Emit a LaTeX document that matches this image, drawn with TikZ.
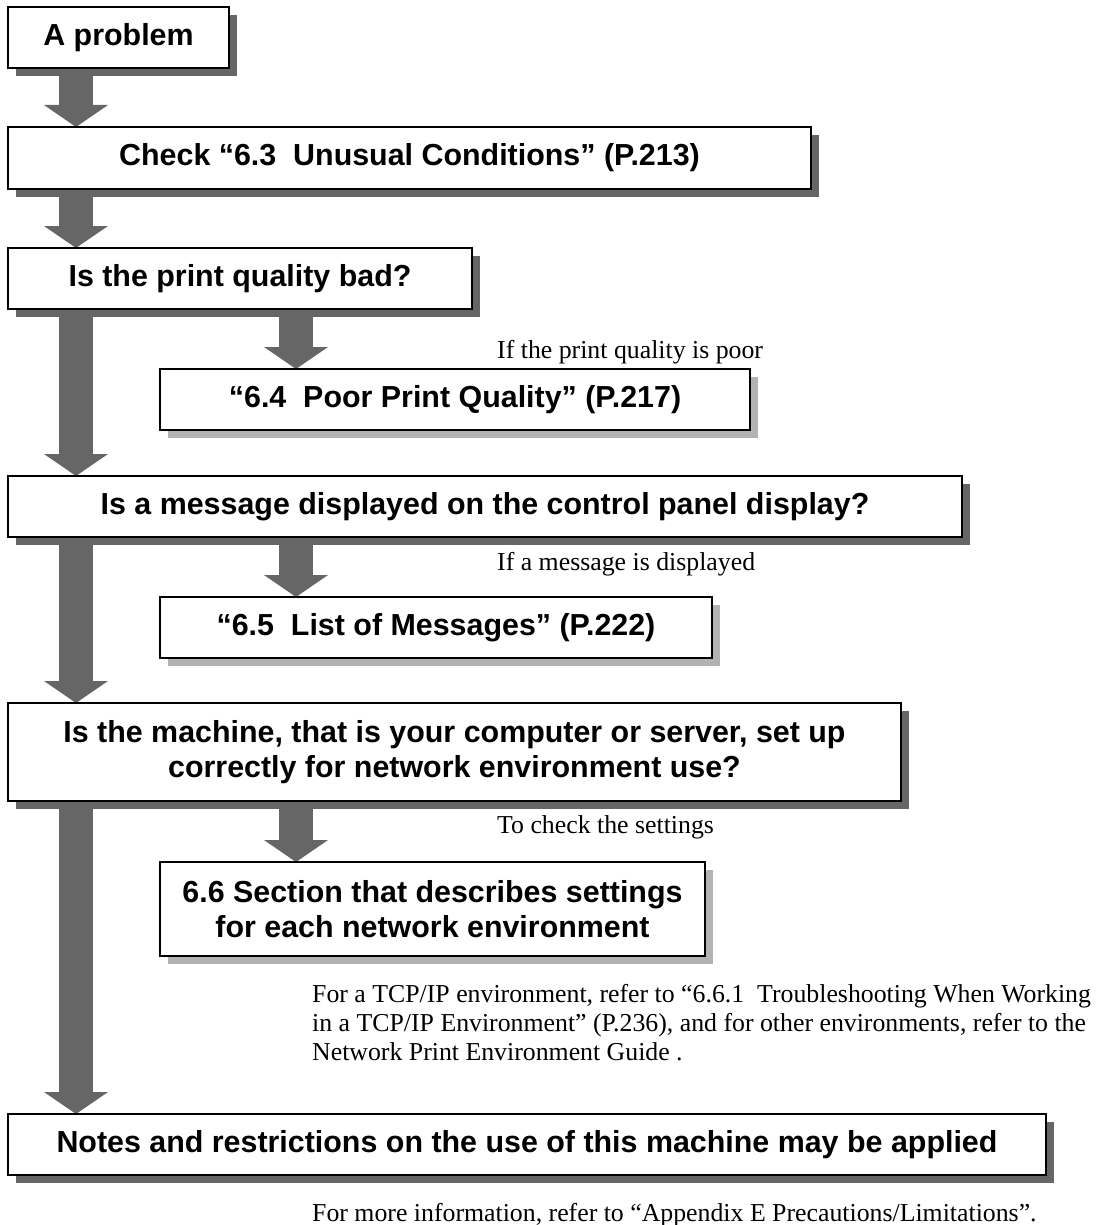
\documentclass[tikz,border=0pt]{standalone}
\usepackage{fontspec}
\setmainfont{Liberation Serif}
\newfontfamily\boxfont{Liberation Sans}
\usetikzlibrary{arrows.meta, shadows, backgrounds}
\definecolor{arrowgray}{RGB}{102,102,102}
\definecolor{shadowdark}{RGB}{102,102,102}
\definecolor{shadowlight}{RGB}{179,179,179}

\begin{document}
\begin{tikzpicture}[x=1pt, y=-1pt,
    box/.style={draw, line width=2.7pt, fill=white, outer sep=0pt, inner sep=0pt, anchor=north west, align=center,
        font=\boxfont\bfseries\fontsize{30.4}{35}\selectfont},
    mainbox/.style={box, drop shadow={shadow xshift=8pt, shadow yshift=-8pt, opacity=1, fill=shadowdark}},
    subbox/.style={box, drop shadow={shadow xshift=8pt, shadow yshift=-8pt, opacity=1, fill=shadowlight}},
    bigarrow/.style={line width=34pt, draw=arrowgray, -{Triangle[width=63pt, length=22pt]}},
    note/.style={anchor=base west, inner sep=0pt, align=left, font=\fontsize{25.8}{28.6}\selectfont}
]
\useasboundingbox (0,0) rectangle (1098,1225);

% Main column
\node[mainbox, minimum width=221pt, minimum height=61pt] (prob) at (8,7) {A problem};
\node[mainbox, minimum width=803pt, minimum height=62pt] (check) at (8,127) {Check “6.3\ \ Unusual Conditions” (P.213)};
\node[mainbox, minimum width=464pt, minimum height=61pt] (qual) at (8,248) {Is the print quality bad?};
\node[mainbox, minimum width=954pt, minimum height=61pt] (msg) at (8,476) {Is a message displayed on the control panel display?};
\node[mainbox, minimum width=893pt, minimum height=98pt] (net) at (8,703) {Is the machine, that is your computer or server, set up\\correctly for network environment use?};
\node[mainbox, minimum width=1038pt, minimum height=61pt] (notes) at (8,1114) {Notes and restrictions on the use of this machine may be applied};

% Side boxes
\node[subbox, minimum width=590pt, minimum height=61pt] (poor) at (160,369) {“6.4\ \ Poor Print Quality” (P.217)};
\node[subbox, minimum width=552pt, minimum height=61pt] (list) at (160,597) {“6.5\ \ List of Messages” (P.222)};
\node[subbox, minimum width=545pt, minimum height=94pt] (sect) at (160,862) {6.6 Section that describes settings\\for each network environment};

% Arrows
\begin{scope}[on background layer]
\draw[bigarrow] ([xshift=68pt]prob.south west) -- ([xshift=68pt]check.north west);
\draw[bigarrow] ([xshift=68pt]check.south west) -- ([xshift=68pt]qual.north west);
\draw[bigarrow] ([xshift=68pt]qual.south west) -- ([xshift=68pt]msg.north west);
\draw[bigarrow] ([xshift=68pt]msg.south west) -- ([xshift=68pt]net.north west);
\draw[bigarrow] ([xshift=68pt]net.south west) -- ([xshift=68pt]notes.north west);
\draw[bigarrow] ([xshift=288pt]qual.south west) -- ([xshift=136pt]poor.north west);
\draw[bigarrow] ([xshift=288pt]msg.south west) -- ([xshift=136pt]list.north west);
\draw[bigarrow] ([xshift=288pt]net.south west) -- ([xshift=136pt]sect.north west);
\end{scope}

% Notes
\node[note] (ifpoor) at (497,358) {If the print quality is poor};
\node[note] (ifmsg) at (497,570) {If a message is displayed};
\node[note] (tocheck) at (497,833) {To check the settings};
\node[note] (tcpip) at (312,1060) {For a TCP/IP environment, refer to “6.6.1\ \ Troubleshooting When Working\\in a TCP/IP Environment” (P.236), and for other environments, refer to the\\Network Print Environment Guide .};
\node[note] (moreinfo) at (312,1221) {For more information, refer to “Appendix E Precautions/Limitations”.};

\end{tikzpicture}
\end{document}
